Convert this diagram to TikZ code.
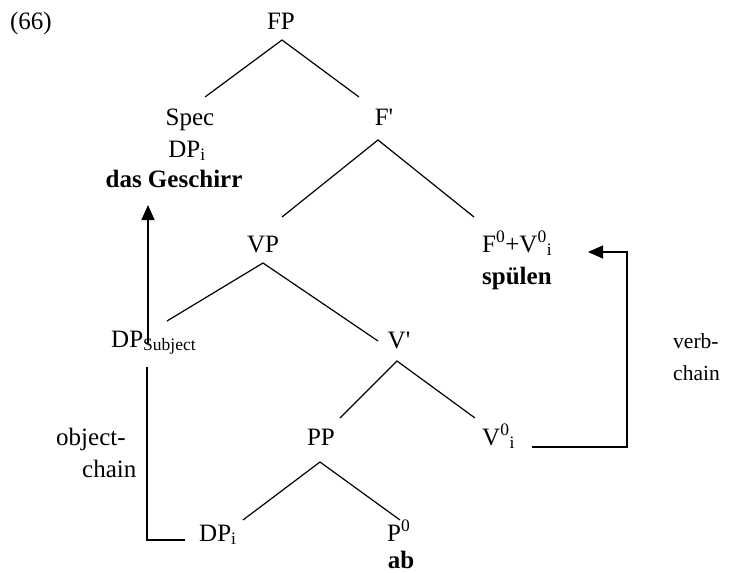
\documentclass[tikz,border=0pt]{standalone}
\usepackage{fontspec}
\setmainfont{Liberation Serif}
\usetikzlibrary{calc,arrows.meta}
\begin{document}
\begin{tikzpicture}[x=1pt,y=-1pt,
  lbl/.style={inner sep=0pt, anchor=base, font=\fontsize{25}{30}\selectfont},
  lblw/.style={lbl, anchor=base west},
  bfl/.style={font=\fontsize{25}{30}\selectfont\bfseries},
  small/.style={inner sep=0pt, anchor=base west, font=\fontsize{21.5}{26}\selectfont},
  branch/.style={line width=1.2pt},
  chainline/.style={line width=1.2pt},
  chainarrow/.style={line width=1.2pt, -{Triangle[length=15pt,width=13pt]}}]
\useasboundingbox (0,0) rectangle (732,573);
% nodes
\node[lbl] (ex) at (31,29) {(66)};
\node[lbl] (FP) at (281,29) {FP};
\node[lbl] (Spec) at (190,125) {Spec};
\node[lbl] (DPi) at (187,157) {DP\textsubscript{i}};
\node[lbl,bfl] (Gesch) at (174,187) {das Geschirr};
\node[lbl] (Fbar) at (384,125) {F\textquotesingle};
\node[lbl] (VP) at (263,252) {VP};
\node[lblw] (FV) at (482,252) {F\textsuperscript{0}+V\textsuperscript{0}\textsubscript{i}};
\node[lblw,bfl] (spuelen) at (482,284) {spülen};
\node[lblw] (DPs) at (111,347) {DP\textsubscript{Subject}};
\node[lbl] (Vbar) at (399,348) {V\textquotesingle};
\node[lbl] (PP) at (321,445) {PP};
\node[lblw] (V0) at (482,445) {V\textsuperscript{0}\textsubscript{i}};
\node[lblw] (DPo) at (199,541) {DP\textsubscript{i}};
\node[lblw] (P0) at (387,541) {P\textsuperscript{0}};
\node[lbl,bfl] (ab) at (401,568) {ab};
\node[lblw] (obj1) at (56,445) {object-};
\node[lblw] (obj2) at (82,477) {chain};
\node[small] (verb1) at (673,348) {verb-};
\node[small] (verb2) at (673,380) {chain};
% tree branches
\draw[branch] ($(Spec.base)+(15,-28)$) -- ($(FP.base)+(1,11)$) -- ($(Fbar.base)+(-25,-28)$);
\draw[branch] ($(VP.base)+(19,-35)$) -- ($(Fbar.base)+(-6,15)$) -- ($(FV.base west)+(-8,-35)$);
\draw[branch] ($(DPs.base west)+(56,-26)$) -- ($(VP.base)+(0,11)$) -- ($(Vbar.base)+(-21,-7)$);
\draw[branch] ($(PP.base)+(19,-27)$) -- ($(Vbar.base)+(-2,13)$) -- ($(V0.base west)+(-7,-27)$);
\draw[branch] ($(DPo.base west)+(44,-21)$) -- ($(PP.base)+(-1,17)$) -- ($(P0.base west)+(13,-21)$);
% chains
\draw[chainarrow] ($(DPs.base west)+(37,-4)$) -- ($(Gesch.base)+(-26,18)$);
\draw[chainline] ($(DPs.base west)+(36,20)$) |- ($(DPo.base west)+(-14,-1)$);
\draw[chainarrow] ($(V0.base west)+(50,2)$) -- ++(95,0) |- ($(FV.base west)+(106,0)$);
\end{tikzpicture}
\end{document}
